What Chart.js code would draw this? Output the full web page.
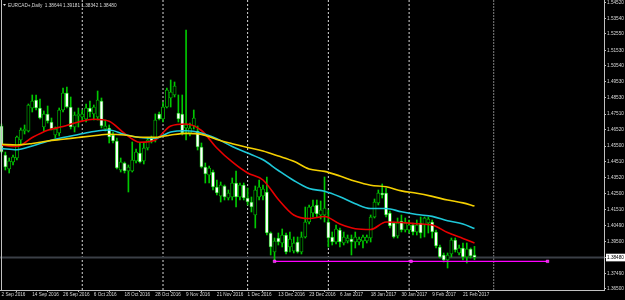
<!DOCTYPE html>
<html>
<head>
<meta charset="utf-8">
<script src="https://cdn.jsdelivr.net/npm/chart.js@4.4.1/dist/chart.umd.min.js"></script>
<style>
  html, body { margin: 0; padding: 0; background: #000; overflow: hidden; }
  canvas { display: block; background: #000; }
</style>
</head>
<body>
<canvas id="chart" width="625" height="300"></canvas>
<script>
// EURCAD+ daily bars, 2 Sep 2016 .. 24 Feb 2017 (weekdays, no 26 Dec / 2 Jan bar)
const opens = [
    1.46760,1.44934,1.44053,1.44494,1.44745,1.45879,1.46445,1.46445,1.47892,1.48396,
    1.47892,1.46697,1.47515,1.47011,1.46193,1.46319,1.47767,1.48836,1.47955,1.46697,
    1.47389,1.47326,1.47200,1.47892,1.47515,1.47326,1.48333,1.46571,1.46634,1.46193,
    1.45816,1.43990,1.44431,1.43927,1.43927,1.44557,1.45060,1.44557,1.45375,1.46004,
    1.45879,1.47515,1.47200,1.47955,1.48522,1.48711,1.47578,1.47515,1.46634,1.46319,
    1.46760,1.46445,1.45438,1.44179,1.43676,1.43864,1.42920,1.42354,1.42983,1.42228,
    1.42291,1.43172,1.42291,1.43046,1.42228,1.41976,1.41158,1.42291,1.42354,1.42606,
    1.40025,1.38829,1.39710,1.39396,1.39899,1.39144,1.38892,1.39458,1.38829,1.39773,
    1.40717,1.41284,1.41787,1.41158,1.41158,1.40717,1.39773,1.39458,1.40214,1.39396,
    1.39521,1.39647,1.39458,1.39458,1.39521,1.39521,1.39710,1.41032,1.41913,1.42543,
    1.42543,1.41284,1.40654,1.39836,1.40780,1.40214,1.40214,1.40529,1.40088,1.40654,
    1.40529,1.40654,1.40717,1.40088,1.39144,1.38640,1.38325,1.38703,1.39584,1.38766,
    1.39081,1.38514,1.39018,1.38644
];
const highs = [
    1.46885,1.45123,1.44745,1.44934,1.46130,1.46634,1.46823,1.48144,1.48711,1.48711,
    1.48459,1.47704,1.48018,1.47263,1.46697,1.47892,1.49151,1.49214,1.48585,1.47641,
    1.47892,1.47767,1.48144,1.48333,1.48081,1.48962,1.48522,1.47137,1.46823,1.46382,
    1.46004,1.44745,1.44494,1.44305,1.45753,1.45312,1.45690,1.45690,1.46004,1.46130,
    1.47515,1.47641,1.48270,1.49151,1.49655,1.49529,1.48711,1.48711,1.52802,1.46948,
    1.47767,1.46760,1.45690,1.44431,1.44242,1.43990,1.43361,1.43235,1.43046,1.42732,
    1.43487,1.43927,1.43172,1.43172,1.42857,1.42291,1.42983,1.43361,1.43046,1.43550,
    1.40088,1.39710,1.40025,1.40277,1.40025,1.40088,1.39773,1.39773,1.40088,1.41661,
    1.41787,1.42102,1.42102,1.42039,1.43550,1.41473,1.40088,1.40529,1.40340,1.40088,
    1.39899,1.39899,1.40088,1.39773,1.39899,1.39899,1.41158,1.42165,1.42732,1.43109,
    1.42857,1.41410,1.40717,1.40969,1.41158,1.40969,1.40843,1.40654,1.40843,1.41032,
    1.41032,1.41032,1.40843,1.40214,1.39270,1.38766,1.38766,1.39710,1.39710,1.39270,
    1.39396,1.39396,1.39081,1.39181
];
const lows = [
    1.45060,1.43990,1.43801,1.44305,1.44620,1.45564,1.46256,1.46382,1.47641,1.47767,
    1.47200,1.46445,1.46948,1.46508,1.46004,1.46130,1.47641,1.47892,1.46571,1.46382,
    1.46697,1.47137,1.47011,1.47326,1.47137,1.47137,1.46634,1.46445,1.45690,1.45690,
    1.44053,1.43864,1.43801,1.42606,1.43864,1.44431,1.44431,1.44368,1.45249,1.45690,
    1.45753,1.47137,1.47011,1.47892,1.47955,1.48585,1.47011,1.46193,1.45879,1.46130,
    1.46571,1.45249,1.44116,1.43172,1.43172,1.42732,1.42417,1.41976,1.42102,1.42102,
    1.42102,1.41661,1.42102,1.42102,1.41787,1.41347,1.40340,1.42102,1.42102,1.39899,
    1.38640,1.38262,1.39270,1.39144,1.38703,1.38829,1.38766,1.38766,1.38703,1.39710,
    1.40591,1.41032,1.41032,1.40906,1.40717,1.39144,1.39270,1.39333,1.39144,1.39270,
    1.39396,1.38640,1.39081,1.39270,1.39081,1.39396,1.39458,1.40969,1.41787,1.42228,
    1.41032,1.40340,1.39710,1.39710,1.40088,1.40088,1.40025,1.39899,1.39899,1.39710,
    1.39773,1.40025,1.39710,1.39081,1.38451,1.38199,1.37821,1.38514,1.38829,1.38640,
    1.38325,1.38136,1.38451,1.38342
];
const closes = [
    1.45123,1.44179,1.44557,1.44808,1.46067,1.46508,1.46571,1.48081,1.48333,1.47892,
    1.47263,1.47515,1.47074,1.46571,1.46571,1.47767,1.48836,1.47955,1.46697,1.47452,
    1.47515,1.47515,1.47892,1.47641,1.47955,1.48396,1.46760,1.46760,1.46067,1.45816,
    1.44116,1.44494,1.43927,1.44179,1.44620,1.45123,1.44494,1.45375,1.45879,1.45816,
    1.47137,1.47200,1.47955,1.49025,1.48899,1.49277,1.47200,1.46319,1.46823,1.46634,
    1.47263,1.45438,1.44179,1.43738,1.44116,1.42920,1.42543,1.43046,1.42291,1.42543,
    1.43172,1.42291,1.43046,1.42228,1.41976,1.41661,1.42732,1.42920,1.42794,1.40025,
    1.39144,1.39521,1.39458,1.39899,1.38829,1.39647,1.39396,1.38829,1.39773,1.40717,
    1.41661,1.41724,1.41221,1.41473,1.41598,1.39710,1.39458,1.40277,1.39458,1.39773,
    1.39710,1.39458,1.39773,1.39647,1.39773,1.39773,1.41032,1.41976,1.42543,1.42417,
    1.41158,1.40466,1.39773,1.40654,1.40214,1.40654,1.40529,1.40088,1.40529,1.40025,
    1.40969,1.40906,1.40088,1.39207,1.38514,1.38325,1.38640,1.39584,1.38955,1.39081,
    1.38514,1.39018,1.38577,1.38480
];

// moving averages, every 4th bar
const maBars = [0,4,8,12,16,20,24,28,32,36,40,44,48,52,56,60,64,68,72,76,80,84,88,92,96,100,104,108,112,116,120,123];
const maRed = [
    1.45564,1.45469,1.46036,1.46495,1.46728,1.47011,1.47181,1.47055,1.46287,1.45734,
    1.45879,1.46760,1.46885,1.46476,1.45375,1.44494,1.43801,1.43361,1.42134,1.41158,
    1.40937,1.41064,1.40591,1.40295,1.40245,1.40717,1.40686,1.40604,1.40529,1.40057,
    1.39679,1.39396
];
const maCyan = [
    1.45343,1.45268,1.45501,1.45797,1.46036,1.46225,1.46413,1.46508,1.46225,1.46036,
    1.45992,1.46382,1.46457,1.46319,1.45954,1.45469,1.45060,1.44632,1.43959,1.43329,
    1.42826,1.42656,1.42310,1.41869,1.41567,1.41567,1.41359,1.41189,1.41070,1.40799,
    1.40591,1.40308
];
const maYellow = [
    1.45608,1.45564,1.45658,1.45816,1.45923,1.46036,1.46143,1.46237,1.46193,1.46048,
    1.46042,1.46193,1.46294,1.46231,1.45910,1.45646,1.45406,1.45186,1.44871,1.44538,
    1.44053,1.43902,1.43613,1.43279,1.43034,1.42933,1.42675,1.42524,1.42329,1.42102,
    1.41919,1.41724
];

// axis labels
const tickBars = [0,8,16,24,32,40,48,56,64,72,80,88,96,104,112,120];
const tickLabels = ['2 Sep 2016','14 Sep 2016','26 Sep 2016','6 Oct 2016','18 Oct 2016','28 Oct 2016',
    '9 Nov 2016','21 Nov 2016','1 Dec 2016','13 Dec 2016','23 Dec 2016','6 Jan 2017',
    '18 Jan 2017','30 Jan 2017','9 Feb 2017','21 Feb 2017'];
const priceTicks = [1.54520,1.53540,1.52550,1.51530,1.50540,1.49530,1.48530,1.47510,1.46520,1.45500,
    1.44510,1.43520,1.42500,1.41510,1.40490,1.39500,1.38480,1.37490,1.36500];
const bidPrice = 1.38480;

// month separators (first bar of Oct, Nov, Dec, Jan, Feb) and the next one
const separatorBars = [21, 42, 64, 85, 106];
const futureSeparatorBar = 128;

// magenta trend line with its three handles
const trendBars = [71, 106.5, 142];
const trendPrice = 1.38243;

const xMin = -0.39, xMax = 156.68;
const yMin = 1.36437, yMax = 1.54690;

const GREEN = '#00c800';
const FONT = { family: 'Liberation Sans', size: 4.7 };

const wickData = opens.map((o, i) => ({ x: i, y: [lows[i], highs[i]] }));
const bodyData = opens.map((o, i) => ({ x: i, y: [o, closes[i]] }));
const bodyFill = opens.map((o, i) => closes[i] >= o ? '#000000' : '#ffffff');

function maLine(values, color) {
    return {
        type: 'line',
        data: maBars.map((b, k) => ({ x: b, y: values[k] })),
        borderColor: color,
        borderWidth: 1.6,
        pointRadius: 0,
        cubicInterpolationMode: 'monotone',
        order: 2
    };
}

function vLine(bar, color, dash) {
    return {
        type: 'line',
        data: [{ x: bar, y: yMin }, { x: bar, y: yMax }],
        borderColor: color,
        borderWidth: 1,
        borderDash: dash,
        pointRadius: 0,
        order: 20
    };
}

const datasets = [];
separatorBars.forEach(b => datasets.push(vLine(b, '#d8d8d8', [2, 2])));
datasets.push(vLine(futureSeparatorBar, '#808080', [2, 1]));

// bid line
datasets.push({
    type: 'line',
    data: [{ x: xMin, y: bidPrice }, { x: xMax, y: bidPrice }],
    borderColor: '#3a3f46',
    borderWidth: 2,
    pointRadius: 0,
    order: 19
});

datasets.push({
    type: 'bar',
    data: wickData,
    backgroundColor: GREEN,
    borderWidth: 0,
    barThickness: 1,
    grouped: false,
    order: 10
});
datasets.push({
    type: 'bar',
    data: bodyData,
    backgroundColor: bodyFill,
    borderColor: GREEN,
    borderWidth: 0.8,
    borderSkipped: false,
    barThickness: 3.2,
    grouped: false,
    order: 9
});

datasets.push(maLine(maYellow, '#f5d000'));
datasets.push(maLine(maCyan, '#1ec8d8'));
datasets.push(maLine(maRed, '#e80000'));

datasets.push({
    type: 'line',
    data: trendBars.map(b => ({ x: b, y: trendPrice })),
    borderColor: '#ff00ff',
    borderWidth: 1.3,
    pointStyle: 'rect',
    pointRadius: 1.8,
    pointBackgroundColor: '#ff00ff',
    pointBorderColor: '#ff80ff',
    pointBorderWidth: 0.5,
    order: 0
});

// title text + left frame line, drawn over the chart like the terminal does
const overlay = {
    id: 'overlay',
    afterDraw(chart) {
        const ctx = chart.ctx;
        ctx.save();
        ctx.strokeStyle = '#c0c0c0';
        ctx.lineWidth = 1;
        ctx.beginPath();
        ctx.moveTo(1.5, 0);
        ctx.lineTo(1.5, chart.chartArea.bottom);
        ctx.stroke();

        ctx.fillStyle = '#e0e0e0';
        ctx.beginPath();
        ctx.moveTo(3, 4);
        ctx.lineTo(6, 4);
        ctx.lineTo(4.5, 6);
        ctx.closePath();
        ctx.fill();

        ctx.font = FONT.size + 'px ' + FONT.family;
        ctx.textBaseline = 'middle';
        ctx.fillStyle = '#d8d8d8';
        ctx.fillText('EURCAD+,Daily  ' + [opens[123], highs[123], lows[123], closes[123]].map(v => v.toFixed(5)).join(' '), 8, 5.5);
        ctx.restore();
    }
};

new Chart(document.getElementById('chart'), {
    type: 'bar',
    data: { datasets: datasets },
    plugins: [overlay],
    options: {
        responsive: false,
        animation: false,
        devicePixelRatio: 1,
        layout: { padding: 0, autoPadding: false },
        plugins: {
            legend: { display: false },
            tooltip: { enabled: false }
        },
        scales: {
            x: {
                type: 'linear',
                min: xMin,
                max: xMax,
                offset: false,
                afterBuildTicks: s => { s.ticks = tickBars.map(v => ({ value: v })); },
                afterFit: s => { s.height = 10; s.paddingLeft = 0; s.paddingRight = 0; },
                grid: { drawOnChartArea: false, drawTicks: true, tickLength: 2, color: '#c0c0c0' },
                border: { color: '#c0c0c0', width: 1 },
                ticks: {
                    autoSkip: false,
                    maxRotation: 0,
                    align: 'start',
                    padding: 0,
                    color: '#d8d8d8',
                    font: FONT,
                    callback: (v, i) => tickLabels[i]
                }
            },
            y: {
                type: 'linear',
                position: 'right',
                min: yMin,
                max: yMax,
                afterBuildTicks: s => { s.ticks = priceTicks.map(v => ({ value: v })); },
                afterFit: s => { s.width = 21; s.paddingTop = 0; s.paddingBottom = 0; },
                grid: { drawOnChartArea: false, drawTicks: true, tickLength: 2, color: '#c0c0c0' },
                border: { color: '#c0c0c0', width: 1 },
                ticks: {
                    autoSkip: false,
                    padding: 1,
                    font: FONT,
                    color: c => (c.tick && c.tick.value === bidPrice) ? '#000000' : '#d8d8d8',
                    showLabelBackdrop: c => !!(c.tick && c.tick.value === bidPrice),
                    backdropColor: '#ffffff',
                    backdropPadding: { top: 1, bottom: 1, left: 1, right: 3 },
                    callback: v => v.toFixed(5)
                }
            }
        }
    }
});
</script>
</body>
</html>
